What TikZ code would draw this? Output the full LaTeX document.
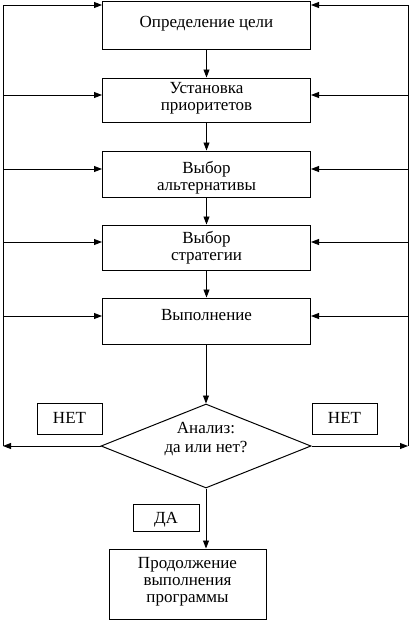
\documentclass[tikz,border=0pt]{standalone}
\usepackage{fontspec}
\setmainfont{Liberation Serif}
\usetikzlibrary{arrows.meta,shapes.geometric}
\begin{document}
\begin{tikzpicture}[x=1pt,y=-1pt,
  box/.style={draw, line width=1pt, inner sep=0pt, fill=white},
  txt/.style={align=center, anchor=north, font=\fontsize{17}{17}\selectfont, inner sep=0pt},
  arr/.style={line width=0.9pt, -{Triangle[length=8pt,width=6pt]}},
  ln/.style={line width=0.9pt}]
\useasboundingbox (0,0) rectangle (410,621);
% boxes
\node[box, minimum width=208, minimum height=48] (b1) at (206.5,25) {};
\node[box, minimum width=208, minimum height=44] (b2) at (206.5,100) {};
\node[box, minimum width=208, minimum height=46] (b3) at (206.5,174) {};
\node[box, minimum width=208, minimum height=45] (b4) at (206.5,247.5) {};
\node[box, minimum width=208, minimum height=46] (b5) at (206.5,321) {};
\node[box, shape=diamond, minimum width=210, minimum height=84] (d) at (206,446) {};
\node[box, minimum width=157, minimum height=70] (b6) at (187.5,584) {};
\node[box, minimum width=65, minimum height=31] (nl) at (69.5,418.5) {};
\node[box, minimum width=65, minimum height=31] (nr) at (344.5,418.5) {};
\node[box, minimum width=66, minimum height=27] (da) at (166,517.5) {};
% texts
\node[txt] (t1) at (206.5,16.5) {Определение цели};
\node[txt] (t2) at (206.5,82.5) {Установка\\приоритетов};
\node[txt] (t3) at (206.5,161.5) {Выбор\\альтернативы};
\node[txt] (t4) at (206.5,231.5) {Выбор\\стратегии};
\node[txt] (t5) at (206.5,309.5) {Выполнение};
\node[txt, font=\fontsize{17}{19}\selectfont] (td) at (206,422.5) {Анализ:\\да или нет?};
\node[txt] (t6) at (187.5,557.5) {Продолжение\\выполнения\\программы};
\node[txt] (tnl) at (69.5,412.5) {НЕТ};
\node[txt] (tnr) at (344.5,412.5) {НЕТ};
\node[txt] (tda) at (166,512.5) {ДА};
% vertical flow
\draw[arr] (b1.south) -- (b2.north);
\draw[arr] (b2.south) -- (b3.north);
\draw[arr] (b3.south) -- (b4.north);
\draw[arr] (b4.south) -- (b5.north);
\draw[arr] (b5.south -| d.north) -- (d.north);
\draw[arr] (d.south) -- (d.south |- b6.north);
% feedback loops
\coordinate (LT) at (3,5);
\coordinate (LB) at (3,446);
\coordinate (RT) at (408,5);
\coordinate (RB) at (408,446);
\coordinate (L2) at (3,95);
\coordinate (L3) at (3,169);
\coordinate (L4) at (3,242);
\coordinate (L5) at (3,316);
\coordinate (R2) at (408,95);
\coordinate (R3) at (408,169);
\coordinate (R4) at (408,242);
\coordinate (R5) at (408,316);
\draw[arr] (d.west) -- (LB);
\draw[arr] (d.east) -- (RB);
\draw[ln] (LB) -- (LT);
\draw[ln] (RB) -- (RT);
\draw[arr] (LT) -- (LT -| b1.west);
\draw[arr] (RT) -- (RT -| b1.east);
\draw[arr] (L2) -- (L2 -| b2.west);
\draw[arr] (L3) -- (L3 -| b3.west);
\draw[arr] (L4) -- (L4 -| b4.west);
\draw[arr] (L5) -- (L5 -| b5.west);
\draw[arr] (R2) -- (R2 -| b2.east);
\draw[arr] (R3) -- (R3 -| b3.east);
\draw[arr] (R4) -- (R4 -| b4.east);
\draw[arr] (R5) -- (R5 -| b5.east);
\end{tikzpicture}
\end{document}
